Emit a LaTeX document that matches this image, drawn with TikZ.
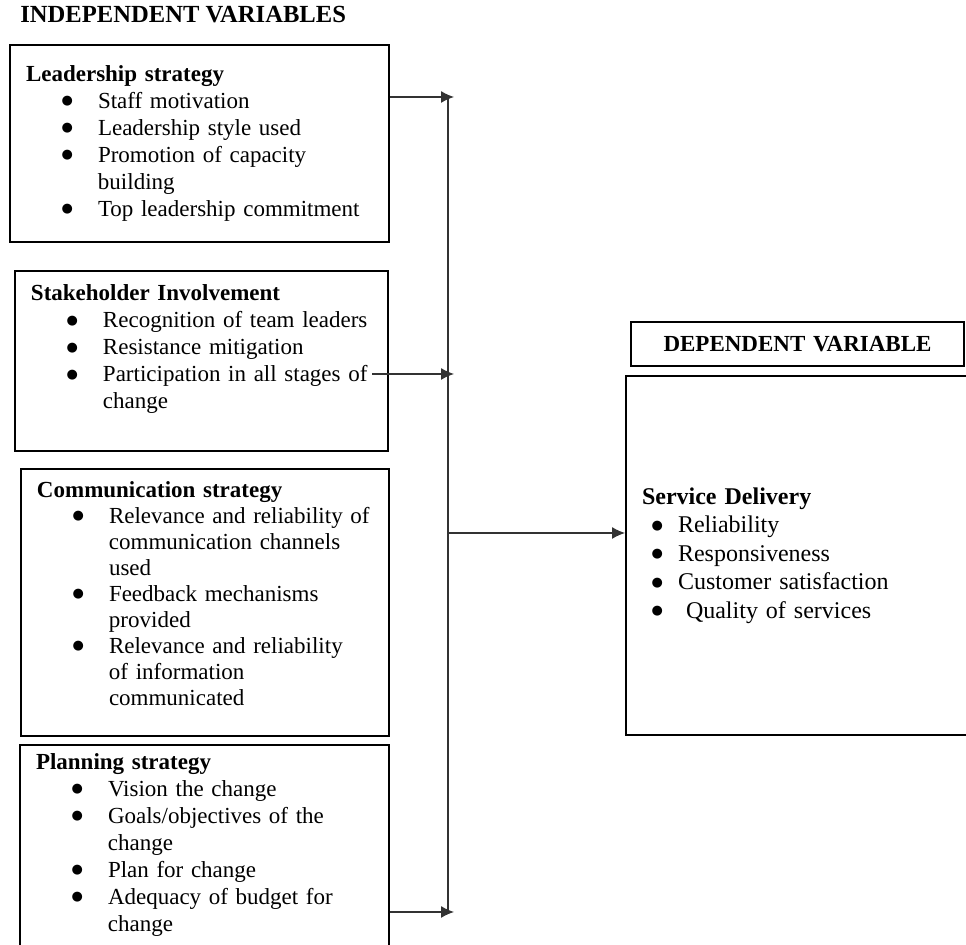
\documentclass[tikz,border=0pt]{standalone}
\usepackage{fontspec}
\setmainfont{Liberation Serif}
\newfontfamily\dotfont{DejaVu Sans}
\usepackage{enumitem}
\usepackage{tikz}
\usetikzlibrary{arrows.meta,positioning}

\newcommand{\dotmark}{\raisebox{1.8pt}{\dotfont\fontsize{6.5pt}{6.5pt}\selectfont ●}}
\setlist[itemize]{label=\dotmark, leftmargin=36pt, labelsep=12.5pt, itemsep=0pt, topsep=0pt, parsep=0pt, partopsep=0pt}

\begin{document}
\begin{tikzpicture}[
    x=0.5pt, y=-0.5pt,
    box/.style={rectangle, draw, line width=1pt, anchor=north west, inner xsep=8pt, inner ysep=0pt, font=\fontsize{11.5pt}{13.5pt}\selectfont},
    head/.style={font=\fontsize{12.3pt}{14pt}\selectfont\bfseries},
    link/.style={line width=0.6pt, draw=black!80},
    tip/.style={link, -{Latex[length=6.5pt, width=6pt]}}
  ]
    \useasboundingbox (0,0) rectangle (966,945);
    \clip (0,0) rectangle (966,945);

    % Independent variables
    \node[head, anchor=base west, inner sep=0pt] (indep) at (20,23) {INDEPENDENT VARIABLES};

    \node[box, text width=173.5pt, minimum height=98.5pt] (lead) at (9,44) {\textbf{Leadership strategy}
      \begin{itemize}
        \item Staff motivation
        \item Leadership style used
        \item Promotion of capacity\newline building
        \item Top leadership commitment
      \end{itemize}};

    \node[box, text width=170.5pt, minimum height=90pt, below right=13.5pt and 2.5pt of lead.south west] (stake) {\textbf{Stakeholder Involvement}
      \begin{itemize}
        \item Recognition of team leaders
        \item Resistance mitigation
        \item Participation in all stages of\newline change\rule[-14pt]{0pt}{0pt}
      \end{itemize}};

    \node[box, text width=168pt, minimum height=133.5pt, font=\fontsize{11.5pt}{13pt}\selectfont, below right=8pt and 3pt of stake.south west] (comm) {\textbf{Communication strategy}
      \begin{itemize}
        \item Relevance and reliability of\newline communication channels\newline used
        \item Feedback mechanisms\newline provided
        \item Relevance and reliability\newline of information\newline communicated\rule[-9pt]{0pt}{0pt}
      \end{itemize}};

    \node[box, text width=168.5pt, minimum height=106pt, below right=3.5pt and -0.5pt of comm.south west] (plan) {\textbf{Planning strategy}
      \begin{itemize}
        \item Vision the change
        \item Goals/objectives of the\newline change
        \item Plan for change
        \item Adequacy of budget for\newline change\rule[-8.5pt]{0pt}{0pt}
      \end{itemize}};

    % Dependent variable
    \node[box, inner xsep=0pt, text width=166.5pt, minimum height=22pt, align=center, font=\fontsize{11.5pt}{13pt}\selectfont\bfseries] (depvar) at (630,321) {DEPENDENT VARIABLE};

    \node[box, text width=164pt, minimum height=179.5pt, font=\fontsize{12pt}{14.3pt}\selectfont, below right=4pt and -2.5pt of depvar.south west] (serv) {\textbf{Service Delivery}
      \begin{itemize}[leftmargin=18pt, labelsep=7.5pt]
        \item Reliability
        \item Responsiveness
        \item Customer satisfaction
        \item \ Quality of services
      \end{itemize}};

    % Connectors
    \coordinate (in1) at (454,97);
    \coordinate (in2) at (454,374);
    \coordinate (in4) at (454,912);
    \coordinate (from2) at (372,374);
    \coordinate (bustop) at (448,97);
    \coordinate (busend) at (448,912);
    \coordinate (junc) at (448,533);

    \draw[link] (bustop) -- (busend);
    \draw[tip] (in1 -| lead.east) -- (in1);
    \draw[tip] (from2) -- (in2);
    \draw[tip] (in4 -| plan.east) -- (in4);
    \draw[tip] (junc) -- (junc -| serv.west);
\end{tikzpicture}
\end{document}
